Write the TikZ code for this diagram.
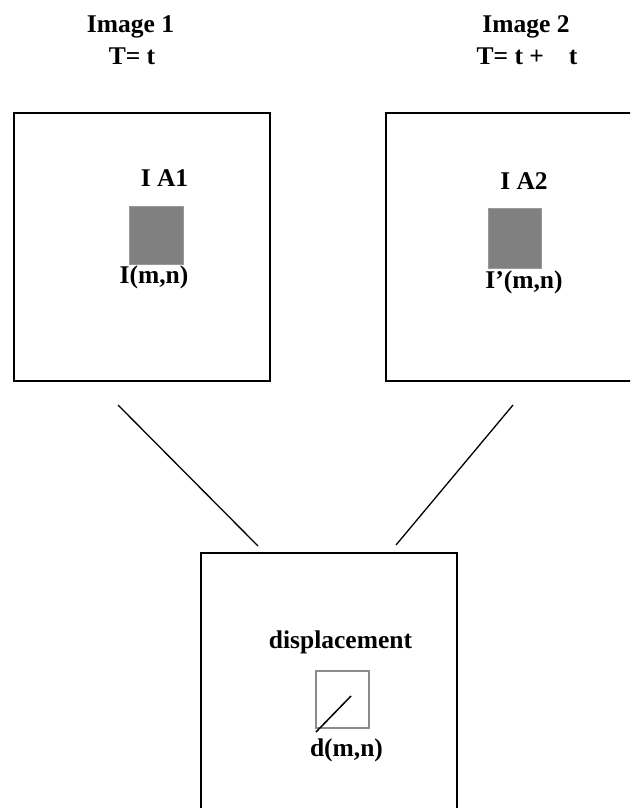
\documentclass[tikz,border=0pt]{standalone}
\usepackage{fontspec}
\setmainfont{Liberation Serif}
\begin{document}
\begin{tikzpicture}[x=1pt,y=-1pt,
  frame/.style={draw=black,line width=1.7pt,minimum width=256pt,minimum height=268pt,inner sep=0pt},
  patch/.style={fill=black!50,draw=black!40,line width=0.6pt,inner sep=0pt},
  window/.style={draw=black!45,line width=1.4pt,inner sep=0pt,minimum width=53pt,minimum height=57pt},
  lbl/.style={font=\fontsize{25.5}{30}\selectfont\bfseries,inner sep=0pt},
  link/.style={line width=1.3pt}]
\useasboundingbox (0,0) rectangle (630,808);
\begin{scope}
\clip (0,0) rectangle (630,808);
% the two frames and the displacement field
\node[frame] (img1) at (142,247) {};
\node[frame] (img2) at (514,247) {};
\node[frame] (disp) at (329,687) {};
% headings
\node[lbl,anchor=base] (h1) at (130.5,33) {Image 1};
\node[lbl,anchor=base] (t1) at (132,64) {T= t};
\node[lbl,anchor=base] (h2) at (526,33) {Image 2};
\node[lbl,anchor=base] (t2) at (527,64) {T= t +\hspace{25pt}t};
% interrogation areas
\node[lbl,anchor=base] (a1) at (164.5,186) {I A1};
\node[patch,minimum width=54pt,minimum height=58pt] (p1) at (156,235) {};
\node[lbl] (i1) at (154,277.5) {I(m,n)};
\node[lbl,anchor=base] (a2) at (524,189) {I A2};
\node[patch,minimum width=53pt,minimum height=60pt] (p2) at (514.5,238) {};
\node[lbl] (i2) at (524,282.5) {I’(m,n)};
% displacement vector
\node[lbl,anchor=base] (dl) at (340.5,648) {displacement};
\node[window] (w) at (342.5,699.5) {};
\coordinate (v0) at (316,732);
\coordinate (v1) at (351,696);
\draw[line width=1.5pt] (v0) -- (v1);
\node[lbl] (dv) at (346.5,750) {d(m,n)};
% connectors from the frames down to the field
\coordinate (l1a) at (118,405);
\coordinate (l1b) at (258,546);
\coordinate (l2a) at (513,405);
\coordinate (l2b) at (396,545);
\draw[link] (l1a) -- (l1b);
\draw[link] (l2a) -- (l2b);
\end{scope}
\end{tikzpicture}
\end{document}
